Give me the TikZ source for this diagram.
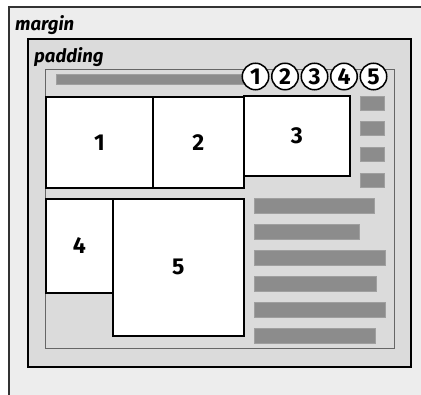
\documentclass[tikz,border=0pt]{standalone}
\usepackage{fontspec}
\setmainfont{Fira Sans}
\begin{document}
\begin{tikzpicture}[x=1pt,y=-1pt,
  lbl/.style={font=\bfseries\itshape\fontsize{18.5}{18.5}\selectfont, anchor=base west, inner sep=0pt},
  wbox/.style={draw=black, line width=1.7pt, fill=white, anchor=north west, inner sep=0pt,
     font=\bfseries\fontsize{23}{23}\selectfont},
  num/.style={circle, draw=black, line width=1.5pt, fill=white, minimum size=26.5pt, inner sep=0pt,
     font=\bfseries\fontsize{23}{23}\selectfont},
  bar/.style={draw=gray!75, line width=0.6pt, fill=black!45, anchor=north west, inner sep=0pt}
]
\useasboundingbox (0,0) rectangle (421,395);
\fill[white] (0,0) rectangle (421,395);
% margin
\draw[line width=1.3pt, draw=black!80, fill=black!7] (9,7) rectangle (440,410);
\node[lbl] (marginlbl) at (15,31) {margin};
% padding
\draw[line width=2pt, fill=black!14] (28,39) rectangle (411,367);
\node[lbl] (paddinglbl) at (34,63) {padding};
% content
\draw[line width=0.8pt, draw=black!60, fill=black!14] (45,69) rectangle (394,348);
% top bar
\node[bar, minimum width=190pt, minimum height=10pt] (topbar) at (55.5,74) {};
% circles
\foreach \i/\xx in {1/255.5,2/285,3/314.5,4/344,5/373.5}
  \node[num] (c\i) at (\xx,76.5) {\i};
% boxes
\node[wbox, minimum width=107pt, minimum height=91pt] (b1) at (45,96) {1};
\node[wbox, minimum width=91pt, minimum height=91pt] (b2) at (152,96) {2};
\node[wbox, minimum width=106pt, minimum height=80pt] (b3) at (243,95) {3};
\node[wbox, minimum width=67pt, minimum height=94pt] (b4) at (45,198) {4};
\node[wbox, minimum width=131pt, minimum height=137pt] (b5) at (112,198) {5};
% small squares
\foreach \i/\yy in {1/96,2/121,3/147,4/173}
  \node[bar, minimum width=24pt, minimum height=14.5pt] (s\i) at (360,\yy) {};
% text bars
\foreach \i/\yy/\ww in {1/198.5/120,2/224.5/105,3/250.5/131,4/276.5/122,5/302.5/131,6/328.5/121}
  \node[bar, minimum width=\ww pt, minimum height=15pt] (t\i) at (253.5,\yy) {};
\end{tikzpicture}
\end{document}
